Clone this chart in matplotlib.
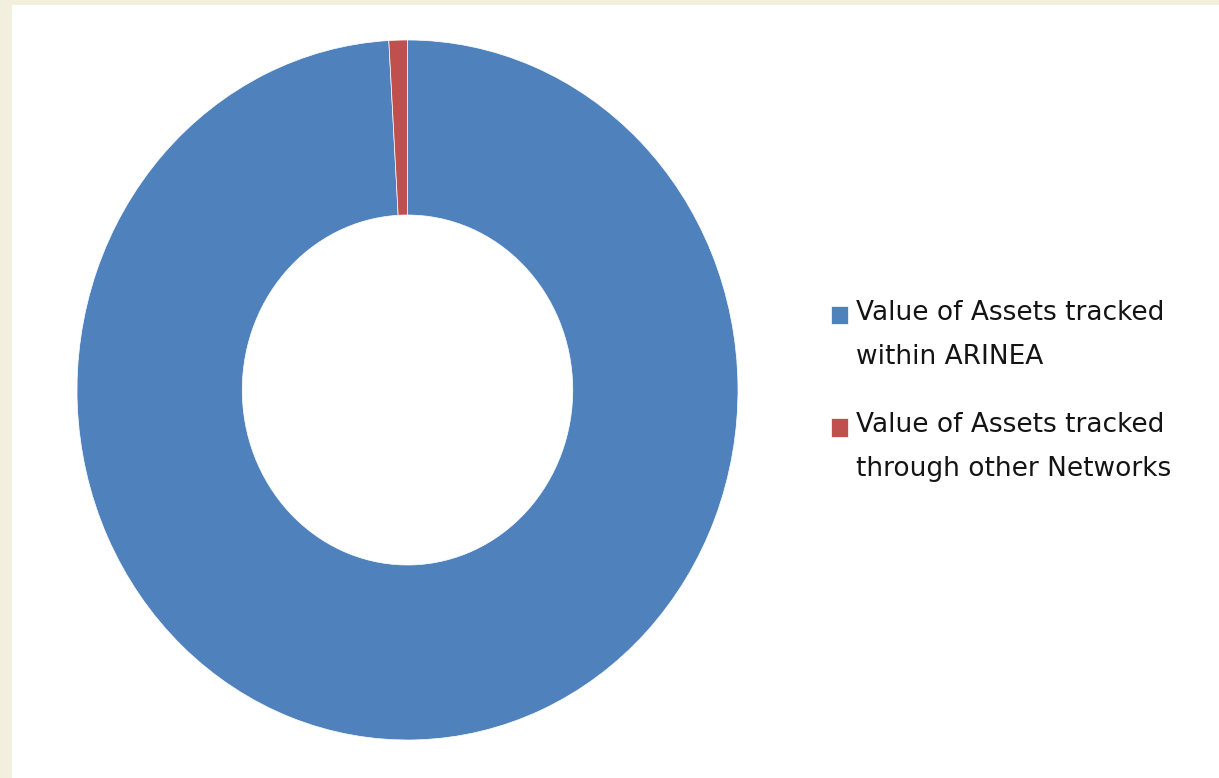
import matplotlib
matplotlib.use("Agg")
import matplotlib.pyplot as plt
from matplotlib.patches import Rectangle, Wedge
from matplotlib.legend_handler import HandlerPatch

labels = ["Value of Assets tracked\nwithin ARINEA",
          "Value of Assets tracked\nthrough other Networks"]
values = [99.1, 0.9]
colors = ["#4F81BD", "#C0504D"]

W, H = 1219, 778
fig = plt.figure(figsize=(W / 100, H / 100), dpi=100, facecolor="#F2F0DC")
fig.patches.append(Rectangle((12 / W, 0), 1 - 12 / W, 1 - 5 / H,
                             transform=fig.transFigure, facecolor="white",
                             edgecolor="none", zorder=-5))

ax = fig.add_axes([77 / W, (H - 740) / H, 661 / W, 700 / H])
ax.set_zorder(2)
wedges, _ = ax.pie(values, colors=colors, startangle=90, counterclock=False,
                   radius=1, wedgeprops=dict(width=0.5, edgecolor="white", linewidth=0.5))
ax.set_aspect("auto")
ax.set_xlim(-1, 1)
ax.set_ylim(-1, 1)
ax.axis("off")

FS = 19
LS = 1.92


def top_rect(legend, orig_handle, xdescent, ydescent, width, height, fontsize):
    shift = 14.5
    return Rectangle((-xdescent, -ydescent + shift), width, height)


leg = fig.legend(wedges, labels, loc="upper left",
                 bbox_to_anchor=(820 / W, 1 - 289 / H), borderaxespad=0,
                 frameon=False, handlelength=0.68, handleheight=0.68,
                 handletextpad=0.3, labelspacing=1.58,
                 handler_map={Wedge: HandlerPatch(patch_func=top_rect)},
                 prop={"family": "DejaVu Sans", "size": FS})
leg.set_zorder(3)
for t in leg.get_texts():
    t.set_linespacing(LS)
    t.set_color("#141414")

fig.savefig("out.png", dpi=100, facecolor=fig.get_facecolor())
